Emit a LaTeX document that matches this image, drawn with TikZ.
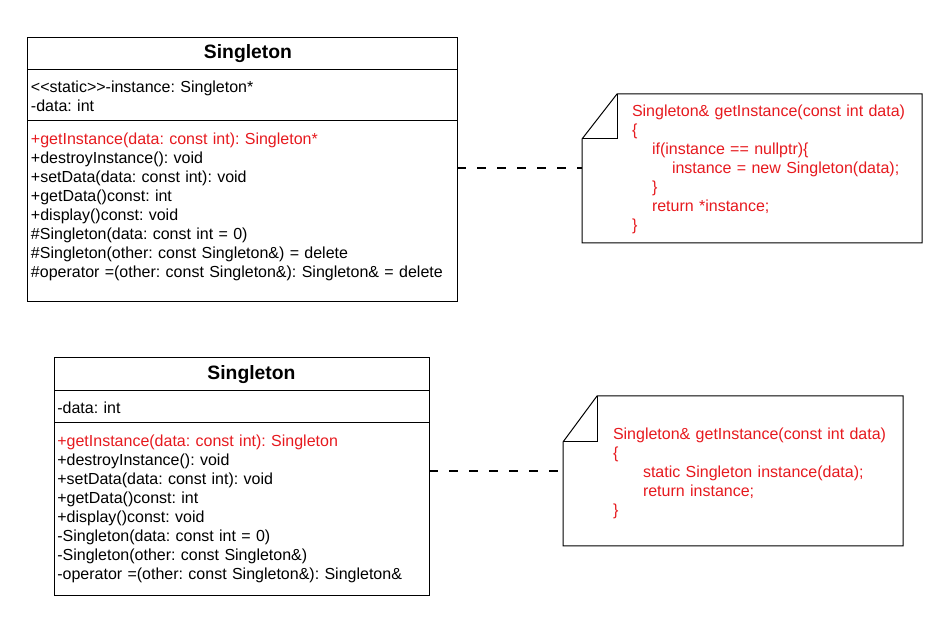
\documentclass[tikz,border=0pt]{standalone}
\usepackage{fontspec}
\setmainfont{Liberation Sans}
\usepackage{xcolor}
\usepackage{tikz}
\usetikzlibrary{positioning}

\definecolor{notered}{RGB}{230,25,30}

\begin{document}
\begin{tikzpicture}[x=0.75pt, y=0.75pt,
        compartment/.style={rectangle, draw, line width=0.75pt, inner sep=0pt, outer sep=0pt},
        classname/.style={font=\fontsize{14.5pt}{17pt}\selectfont\bfseries, inner sep=0pt},
        members/.style={align=left, inner sep=0pt, outer sep=0pt, font=\fontsize{12pt}{14.25pt}\selectfont\frenchspacing},
        codetext/.style={members, text=notered, text width=250pt},
        notebox/.style={rectangle, inner sep=0pt, outer sep=0pt, minimum width=255pt},
        dependency/.style={line width=1.5pt, dash pattern=on 6.5pt off 8.5pt}]
        \useasboundingbox (0,0) rectangle (947,-623);

        \node (head1) [compartment, minimum width=322.5pt, minimum height=24pt, anchor=north west] at (27,-38) {};
        \node (name1) [classname, xshift=4.5pt] at (head1.center) {Singleton};
        \node (attr1) [compartment, minimum width=322.5pt, minimum height=38.25pt, below=0pt of head1] {};
        \node (meth1) [compartment, minimum width=322.5pt, minimum height=135.75pt, below=0pt of attr1] {};
        \node (attrtext1) [members, text width=318pt, below right=7.05pt and 3pt of attr1.north west] {\strut<{}<static>{}>-instance: Singleton*\\-data: int};
        \node (methtext1) [members, text width=318pt, below right=7.5pt and 3pt of meth1.north west] {\strut\textcolor{notered}{+getInstance(data: const int): Singleton*}\\+destroyInstance(): void\\+setData(data: const int): void\\+getData()const: int\\+display()const: void\\\#Singleton(data: const int = 0)\\\#Singleton(other: const Singleton\&) = delete\\\#operator =(other: const Singleton\&): Singleton\& = delete};

        \node (note1) [notebox, minimum height=111.75pt, anchor=north west] at (582,-94) {};
        \draw [line width=0.75pt] ([xshift=26.25pt]note1.north west) -- (note1.north east) -- (note1.south east) -- (note1.south west) -- ([yshift=-33.75pt]note1.north west) -- cycle;
        \draw [line width=0.75pt] ([xshift=26.25pt]note1.north west) |- ([yshift=-33.75pt]note1.north west);
        \node (code1) [codetext, below right=7.05pt and 37.5pt of note1.north west] {\strut Singleton\& getInstance(const int data)\\\{\\\hspace*{15pt}if(instance == nullptr)\{\\\hspace*{30pt}instance = new Singleton(data);\\\hspace*{15pt}\}\\\hspace*{15pt}return *instance;\\\}};

        \draw [dependency] (meth1.east |- note1.west) -- (note1.west);

        \node (head2) [compartment, minimum width=281.25pt, minimum height=24.75pt, anchor=north west] at (54,-358) {};
        \node (name2) [classname, xshift=7.5pt] at (head2.center) {Singleton};
        \node (attr2) [compartment, minimum width=281.25pt, minimum height=24pt, below=0pt of head2] {};
        \node (meth2) [compartment, minimum width=281.25pt, minimum height=129.75pt, below=0pt of attr2] {};
        \node (attrtext2) [members, text width=278pt, below right=6.75pt and 2.5pt of attr2.north west] {\strut-data: int};
        \node (methtext2) [members, text width=278pt, below right=7.6pt and 2.5pt of meth2.north west] {\strut\textcolor{notered}{+getInstance(data: const int): Singleton}\\+destroyInstance(): void\\+setData(data: const int): void\\+getData()const: int\\+display()const: void\\-Singleton(data: const int = 0)\\-Singleton(other: const Singleton\&)\\-operator =(other: const Singleton\&): Singleton\&};

        \node (note2) [notebox, minimum height=112.5pt, anchor=north west] at (563,-396) {};
        \draw [line width=0.75pt] ([xshift=25.5pt]note2.north west) -- (note2.north east) -- (note2.south east) -- (note2.south west) -- ([yshift=-34.5pt]note2.north west) -- cycle;
        \draw [line width=0.75pt] ([xshift=25.5pt]note2.north west) |- ([yshift=-34.5pt]note2.north west);
        \node (code2) [codetext, below right=23pt and 37.5pt of note2.north west] {\strut Singleton\& getInstance(const int data)\\\{\\\hspace*{22.5pt}static Singleton instance(data);\\\hspace*{22.5pt}return instance;\\\}};

        \draw [dependency] (meth2.east |- note2.west) -- (note2.west);
\end{tikzpicture}
\end{document}
